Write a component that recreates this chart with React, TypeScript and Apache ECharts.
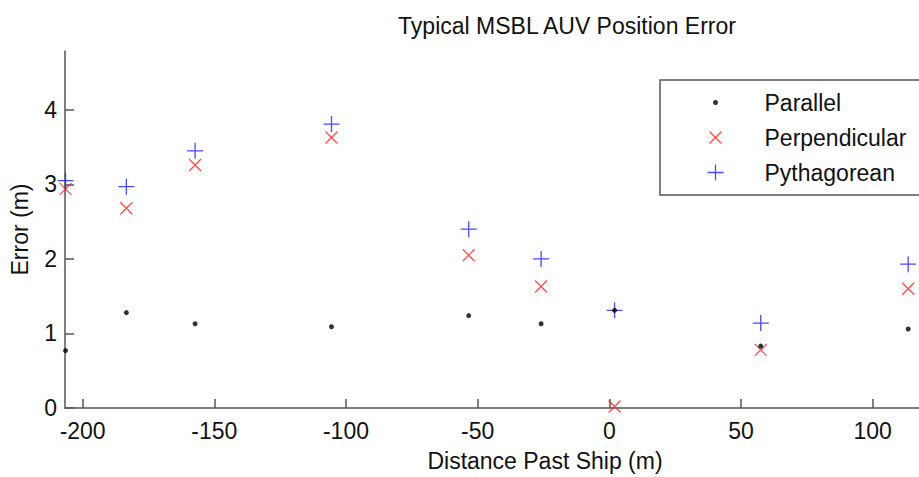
import React, { useEffect, useRef } from "react";
import * as echarts from "echarts";

const distances = [-206.5, -183.4, -157.3, -105.5, -53.4, -25.9, 2.0, 57.5, 113.5];
const parallel = [0.77, 1.28, 1.13, 1.09, 1.24, 1.13, 1.31, 0.83, 1.06];
const perpendicular = [2.94, 2.68, 3.26, 3.63, 2.05, 1.63, 0.02, 0.78, 1.6];
const pythagorean = [3.05, 2.97, 3.45, 3.81, 2.4, 2.0, 1.31, 1.14, 1.93];
const xTicks = [-200, -150, -100, -50, 0, 50, 100];
const yTicks = [0, 1, 2, 3, 4];
const seriesNames = ["Parallel", "Perpendicular", "Pythagorean"];

const FONT = "Liberation Sans, Arial, sans-serif";
const FS = 23;
const AXIS_COLOR = "#555";

export default function App() {
  const ref = useRef<HTMLDivElement>(null);
  useEffect(() => {
    if (!ref.current) return;
    const chart = echarts.init(ref.current, undefined, { renderer: "svg" });
    const pair = (ys: number[]) => distances.map((x, i) => [x, ys[i]]);
    const legendCommon = {
      orient: "horizontal" as const,
      itemWidth: 88,
      itemGap: 0,
      textStyle: { fontFamily: FONT, fontSize: FS, color: "#111" },
      selectedMode: false,
      z: 10,
    };
    chart.setOption({
      animation: false,
      backgroundColor: "#fff",
      textStyle: { fontFamily: FONT },
      title: {
        text: "Typical MSBL AUV Position Error",
        left: 562,
        top: 9,
        textAlign: "center",
        textStyle: { fontFamily: FONT, fontSize: FS, fontWeight: "normal", color: "#111" },
      },
      graphic: [
        {
          type: "rect",
          shape: { x: 660, y: 80, width: 300, height: 115 },
          style: { fill: "#fff", stroke: AXIS_COLOR, lineWidth: 1.5 },
          z: 5,
        },
      ],
      legend: [
        {
          ...legendCommon,
          data: [seriesNames[0]],
          left: 708,
          top: 86,
          itemHeight: 5,
        },
        {
          ...legendCommon,
          data: [seriesNames[1]],
          left: 702,
          top: 121,
          itemHeight: 12,
          itemStyle: { borderWidth: 1.3 },
        },
        {
          ...legendCommon,
          data: [seriesNames[2]],
          left: 700,
          top: 156,
          itemHeight: 16,
          itemStyle: { borderWidth: 1.3 },
        },
      ],
      grid: { left: 65, right: 0, top: 51, bottom: 64, containLabel: false },
      xAxis: {
        type: "value",
        min: -206.7,
        max: 117.6,
        name: "Distance Past Ship (m)",
        nameLocation: "middle",
        nameGap: 41,
        nameTextStyle: { fontFamily: FONT, fontSize: FS, color: "#111", padding: [0, 0, 0, 106] },
        axisLine: { show: true, onZero: false, lineStyle: { color: AXIS_COLOR, width: 1.5 } },
        axisTick: {
          show: true,
          inside: true,
          length: 9,
          customValues: xTicks,
          lineStyle: { color: AXIS_COLOR, width: 1.5 },
        },
        axisLabel: {
          customValues: xTicks,
          fontFamily: FONT,
          fontSize: FS,
          color: "#111",
          margin: 11,
        },
        splitLine: { show: false },
      },
      yAxis: {
        type: "value",
        min: 0,
        max: 4.79,
        name: "Error (m)",
        nameLocation: "middle",
        nameGap: 34,
        nameRotate: 90,
        nameTextStyle: { fontFamily: FONT, fontSize: FS, color: "#111" },
        axisLine: { show: true, onZero: false, lineStyle: { color: AXIS_COLOR, width: 1.5 } },
        axisTick: {
          show: true,
          inside: true,
          length: 9,
          customValues: yTicks,
          lineStyle: { color: AXIS_COLOR, width: 1.5 },
        },
        axisLabel: {
          customValues: yTicks,
          fontFamily: FONT,
          fontSize: FS,
          color: "#111",
          margin: 8,
        },
        splitLine: { show: false },
      },
      series: [
        {
          name: seriesNames[0],
          type: "scatter",
          data: pair(parallel),
          symbol: "circle",
          symbolSize: 5,
          itemStyle: { color: "#000" },
          z: 3,
        },
        {
          name: seriesNames[1],
          type: "scatter",
          data: pair(perpendicular),
          symbol: "path://M0,0L10,10M10,0L0,10",
          symbolSize: 12,
          itemStyle: { color: "none", borderColor: "#ff2020", borderWidth: 1.3 },
          z: 2,
        },
        {
          name: seriesNames[2],
          type: "scatter",
          data: pair(pythagorean),
          symbol: "path://M5,0L5,10M0,5L10,5",
          symbolSize: 16,
          itemStyle: { color: "none", borderColor: "#1a1aff", borderWidth: 1.3 },
          z: 2,
        },
      ],
    });
    return () => chart.dispose();
  }, []);
  return (
    <div
      ref={ref}
      style={{ position: "fixed", left: 0, top: 0, width: 919, height: 477, background: "#fff" }}
    />
  );
}
